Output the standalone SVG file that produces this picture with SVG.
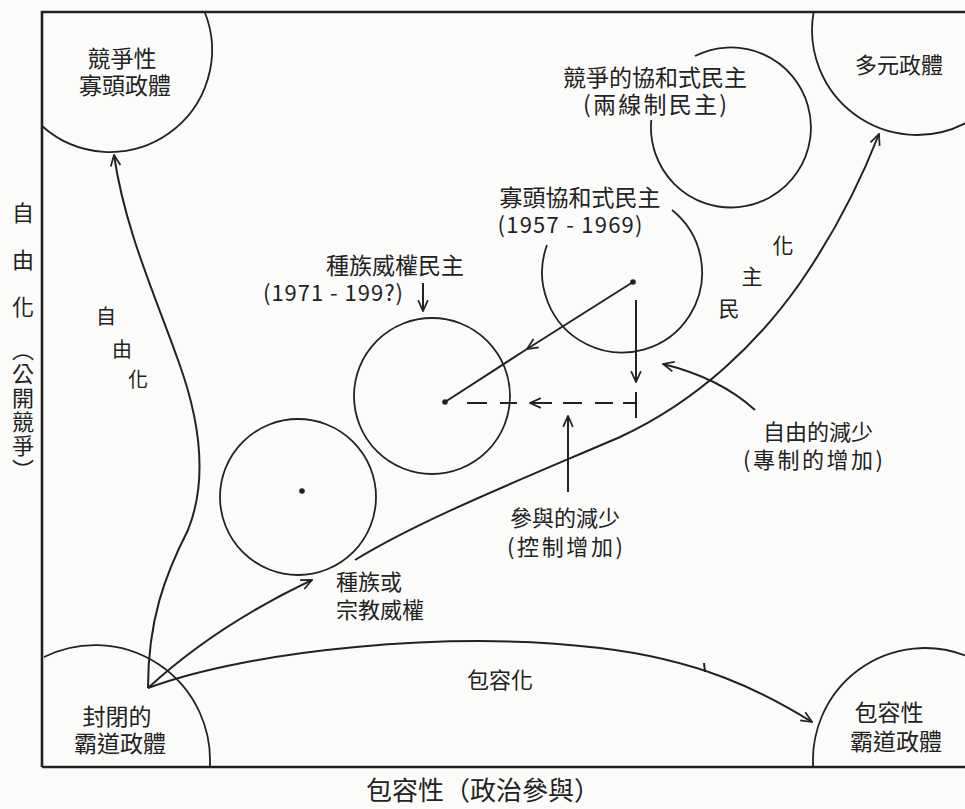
<svg xmlns="http://www.w3.org/2000/svg" width="965" height="809" viewBox="0 0 965 809">
<defs>
<style>
.t{font-family:"Noto Sans CJK TC","Noto Sans CJK SC",sans-serif;fill:#222;text-anchor:middle}
.ln{fill:none;stroke:#222;stroke-width:2}
.cl{fill:none;stroke:#222;stroke-width:1.8}
.ax{fill:none;stroke:#222;stroke-width:2.6}
.dot{fill:#222}
</style>
<marker id="arr" viewBox="0 0 12 12" refX="11" refY="6" markerWidth="13" markerHeight="13" markerUnits="userSpaceOnUse" orient="auto">
<path d="M1,1.5 L11,6 L1,10.5" fill="none" stroke="#222" stroke-width="1.6"/>
</marker>
</defs>
<rect width="965" height="809" fill="#fbfbf9"/>

<g id="axes">
<path class="ax" d="M42,767 L42,12 L965,12"/>
<path class="ax" d="M42,767 L965,767"/>
<text class="t" x="483" y="800" font-size="26">包容性（政治參與）</text>
<g font-size="22">
<text class="t" x="23" y="221">自</text>
<text class="t" x="23" y="268">由</text>
<text class="t" x="23" y="315">化</text>
<text class="t" x="23" y="339" writing-mode="vertical-rl" letter-spacing="2" style="text-anchor:start">（公開競爭）</text>
</g>
</g>

<g id="competitive-oligarchy">
<path class="cl" d="M204.7,12 A102,102 0 0 1 42,126"/>
<text class="t" font-size="23"><tspan x="122" y="67">競爭性</tspan><tspan x="125" y="94">寡頭政體</tspan></text>
</g>

<g id="polyarchy">
<path class="cl" d="M813.6,12 A105,105 0 0 0 965,123.4"/>
<text class="t" x="899" y="73" font-size="22">多元政體</text>
</g>

<g id="closed-hegemony">
<path class="cl" d="M44,657 A115,115 0 0 1 209.8,767"/>
<text class="t" font-size="23"><tspan x="117" y="725">封閉的</tspan><tspan x="120" y="752">霸道政體</tspan></text>
</g>

<g id="inclusive-hegemony">
<path class="cl" d="M813.2,767 A112,112 0 0 1 965,655.4"/>
<text class="t" font-size="23"><tspan x="889" y="721">包容性</tspan><tspan x="896" y="750">霸道政體</tspan></text>
</g>

<g id="competitive-consociational">
<path class="cl" d="M695,56 A80,80 0 1 1 651.3,120"/>
<text class="t" font-size="23"><tspan x="655" y="86">競爭的協和式民主</tspan><tspan x="655" y="113" textLength="144" lengthAdjust="spacing">(兩線制民主)</tspan></text>
</g>

<g id="oligarchic-consociational">
<path class="cl" d="M672,210 A80,80 0 1 1 547,245"/>
<circle class="dot" cx="633" cy="282" r="2.8"/>
<text class="t" font-size="23"><tspan x="580" y="206">寡頭協和式民主</tspan><tspan x="570" y="233" font-size="22" textLength="145" lengthAdjust="spacing">(1957 - 1969)</tspan></text>
</g>

<g id="ethnic-authoritarian-democracy">
<circle class="cl" cx="432" cy="396" r="78"/>
<circle class="dot" cx="445" cy="402" r="2.8"/>
<text class="t" font-size="23"><tspan x="395" y="274">種族威權民主</tspan><tspan x="333" y="301" font-size="22" textLength="140" lengthAdjust="spacing">(1971 - 199?)</tspan></text>
</g>

<g id="ethnic-religious-authoritarian">
<circle class="cl" cx="298" cy="497" r="78"/>
<circle class="dot" cx="302" cy="491" r="2.8"/>
<text class="t" font-size="22" style="text-anchor:start"><tspan x="336" y="590">種族或</tspan><tspan x="336" y="618">宗教威權</tspan></text>
</g>

<g id="labels">
<g font-size="20">
<text class="t" x="106" y="324">自</text>
<text class="t" x="122" y="357">由</text>
<text class="t" x="138" y="387">化</text>
</g>
<g font-size="21">
<text class="t" x="783" y="253">化</text>
<text class="t" x="752" y="284">主</text>
<text class="t" x="729" y="316">民</text>
</g>
<text class="t" x="500" y="688" font-size="22">包容化</text>
<text class="t" font-size="22"><tspan x="818" y="440">自由的減少</tspan><tspan x="813" y="468" textLength="140" lengthAdjust="spacing">(專制的增加)</tspan></text>
<text class="t" font-size="22"><tspan x="565" y="526">參與的減少</tspan><tspan x="565" y="555" textLength="116" lengthAdjust="spacing">(控制增加)</tspan></text>
</g>

<g id="connectors">
<path class="ln" marker-end="url(#arr)" d="M148,688 C148,620 165,575 188,530 C208,480 200,420 178,360 C155,295 125,230 114,155"/>
<path class="ln" marker-end="url(#arr)" d="M148,688 C200,640 255,607 312,580"/>
<path class="ln" marker-end="url(#arr)" d="M355,560 C420,520 520,480 620,437 C700,400 760,340 800,283 C840,225 865,170 879,134"/>
<path class="ln" marker-end="url(#arr)" d="M148,688 C250,650 450,630 600,648 C700,660 760,690 812,722"/>
<path class="ln" d="M704,663 L705,672"/>
<path class="ln" stroke-width="1.6" marker-end="url(#arr)" d="M423,283 L423,311"/>
<path class="ln" stroke-width="1.6" marker-end="url(#arr)" d="M633,282 L527,349"/>
<path class="ln" stroke-width="1.6" d="M527,349 L445,402"/>
<path class="ln" stroke-width="1.6" marker-end="url(#arr)" d="M636,300 L636,382"/>
<path class="ln" stroke-width="1.6" d="M636,392 L636,418"/>
<path class="ln" stroke-width="1.6" d="M467,403 L487,403 M500,403 L517,403 M563,403 L582,403 M595,403 L613,403 M623,403 L636,403"/>
<path class="ln" stroke-width="1.6" marker-end="url(#arr)" d="M552,403 L530,403"/>
<path class="ln" stroke-width="1.6" marker-end="url(#arr)" d="M568,492 L568,416"/>
<path class="ln" stroke-width="1.6" marker-end="url(#arr)" d="M755,410 Q720,378 663,364"/>
</g>
</svg>
